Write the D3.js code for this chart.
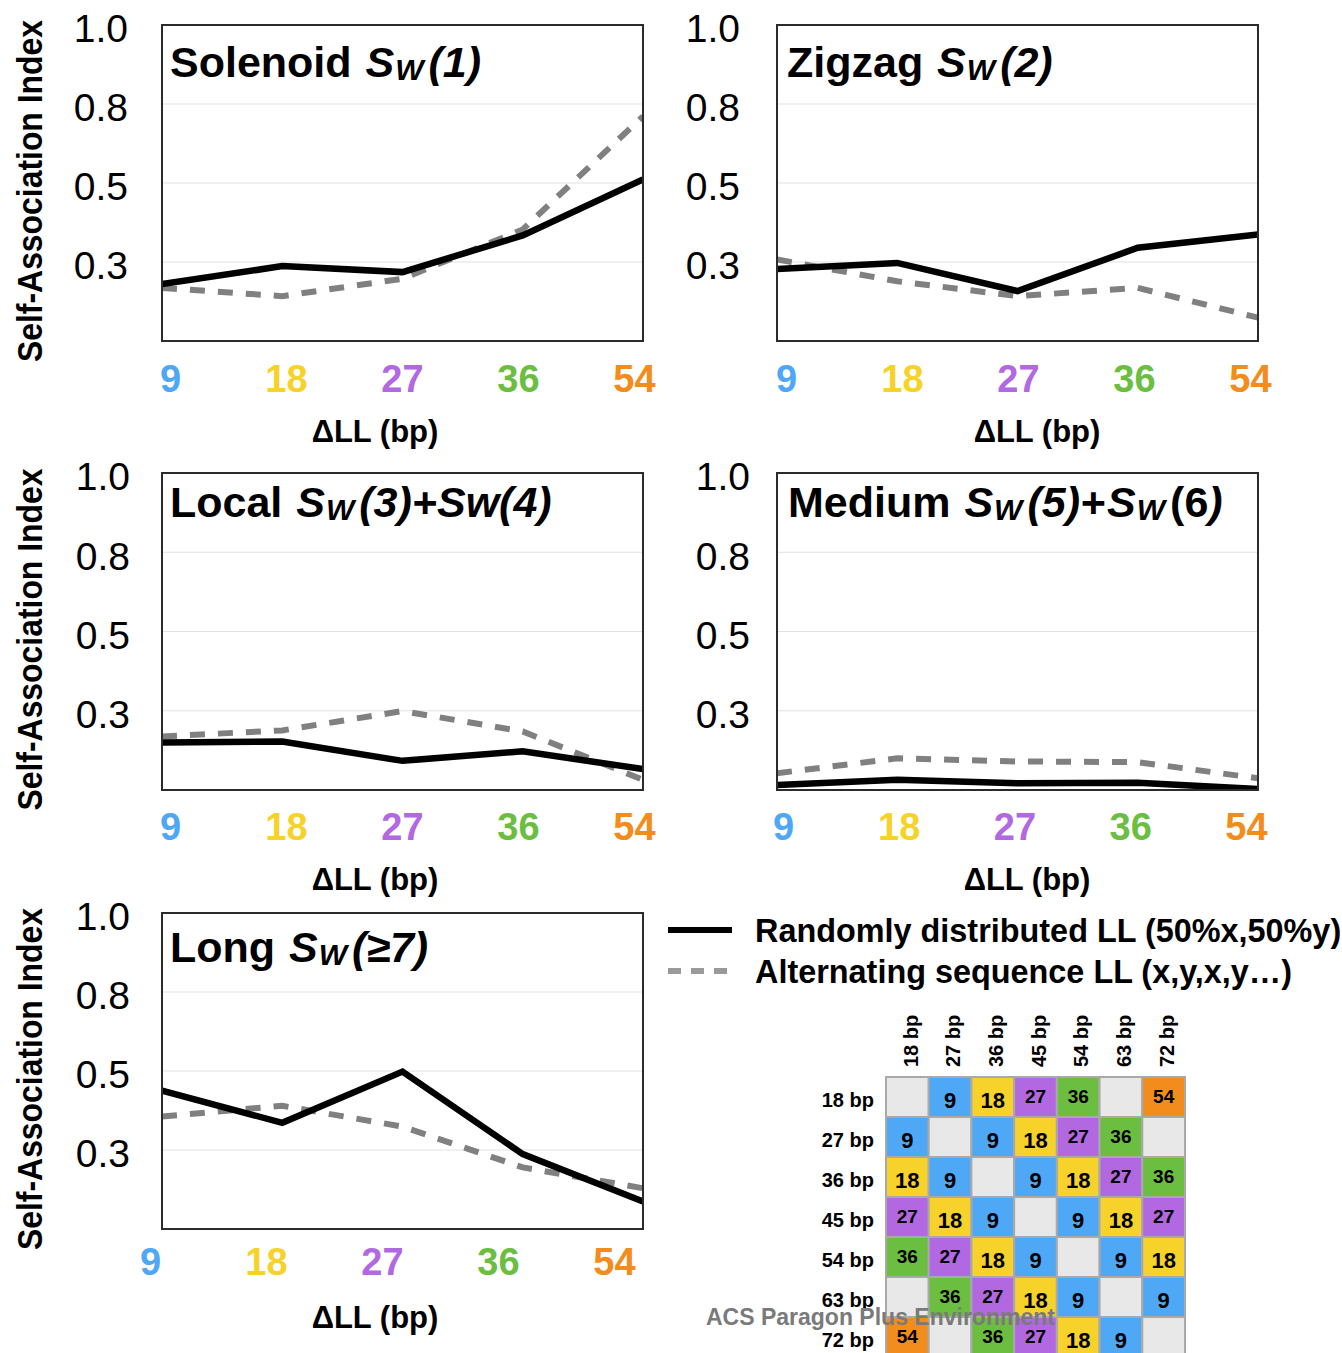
<!DOCTYPE html>
<meta charset="utf-8">
<script src="https://d3js.org/d3.v7.min.js"></script>
<style>
  body { margin: 0; background: #fff; }
  svg { font-family: "Liberation Sans", Arial, Helvetica, sans-serif; }
</style>
<div id="my_dataviz"></div>
<script>

// categories on the x axis (delta LL in bp)
var categories = [9, 18, 27, 36, 54];
var catColors = ["#4fa8f6", "#f6d22a", "#b168e1", "#6bbe3f", "#f28c1d"];

// y tick values (labels are rounded to one decimal, as in the figure)
var yTicks = [0.25, 0.5, 0.75, 1.0];

// self-association index
var solenoidRandom = [0.180, 0.237, 0.218, 0.334, 0.511];
var solenoidAlt    = [0.168, 0.142, 0.197, 0.353, 0.711];
var zigzagRandom   = [0.228, 0.247, 0.158, 0.295, 0.337];
var zigzagAlt      = [0.258, 0.189, 0.142, 0.168, 0.074];
var localRandom    = [0.150, 0.153, 0.092, 0.122, 0.066];
var localAlt       = [0.169, 0.188, 0.249, 0.185, 0.032];
var mediumRandom   = [0.016, 0.032, 0.021, 0.023, 0.003];
var mediumAlt      = [0.053, 0.100, 0.090, 0.088, 0.037];
var longRandom     = [0.438, 0.336, 0.498, 0.237, 0.087];
var longAlt        = [0.356, 0.390, 0.324, 0.195, 0.129];

// panel titles as [text, style] pieces
var titles = [
  [["Solenoid ", "b"], ["S", "i"], ["W", "sub"], ["(1)", "i"]],
  [["Zigzag ", "b"], ["S", "i"], ["W", "sub"], ["(2)", "i"]],
  [["Local ", "b"], ["S", "i"], ["W", "sub"], ["(3)+Sw(4)", "i"]],
  [["Medium ", "b"], ["S", "i"], ["W", "sub"], ["(5)+", "i"], ["S", "i"], ["W", "sub"], ["(6", "b"], [")", "i"]],
  [["Long ", "b"], ["S", "i"], ["W", "sub"], ["(\u22657)", "i"]]
];

var legendLabels = ["Randomly distributed LL (50%x,50%y)", "Alternating sequence LL (x,y,x,y\u2026)"];

// pair matrix
var sizeLabels = ["18 bp", "27 bp", "36 bp", "45 bp", "54 bp", "63 bp", "72 bp"];
var pairMatrix = [
  [null, 9, 18, 27, 36, null, 54],
  [9, null, 9, 18, 27, 36, null],
  [18, 9, null, 9, 18, 27, 36],
  [27, 18, 9, null, 9, 18, 27],
  [36, 27, 18, 9, null, 9, 18],
  [null, 36, 27, 18, 9, null, 9],
  [54, null, 36, 27, 18, 9, null]
];

var width = 1342, height = 1353;

var svg = d3.select("#my_dataviz")
  .append("svg")
    .attr("width", width)
    .attr("height", height);

var color = d3.scaleOrdinal().domain(categories).range(catColors);

// panel layout
var panels = [
  {t: 0, r: solenoidRandom, a: solenoidAlt, x0: 162, x1: 643, y0: 25, y1: 341, tr: 128, lL: 8, lR: 9, lY: 392, xt: 375, xtY: 442, tx: 170, tY: 52, yt: true},
  {t: 1, r: zigzagRandom, a: zigzagAlt, x0: 777, x1: 1258, y0: 25, y1: 341, tr: 740, lL: 9, lR: 8, lY: 392, xt: 1037, xtY: 442, tx: 787, tY: 52, yt: false},
  {t: 2, r: localRandom, a: localAlt, x0: 162, x1: 643, y0: 473, y1: 790, tr: 130, lL: 8, lR: 9, lY: 840, xt: 375, xtY: 890, tx: 170, tY: 44, yt: true},
  {t: 3, r: mediumRandom, a: mediumAlt, x0: 777, x1: 1258, y0: 473, y1: 790, tr: 750, lL: 6, lR: 12, lY: 840, xt: 1027, xtY: 890, tx: 788, tY: 44, yt: false},
  {t: 4, r: longRandom, a: longAlt, x0: 162, x1: 643, y0: 913, y1: 1229, tr: 130, lL: -12, lR: 29, lY: 1275, xt: 375, xtY: 1328, tx: 170, tY: 49, yt: true}
];

panels.forEach(function(p, i) {
  var g = svg.append("g");

  var x = d3.scalePoint().domain(categories).range([p.x0, p.x1]);
  var y = d3.scaleLinear().domain([0, 1]).range([p.y1, p.y0]);

  // gridlines
  g.selectAll(".grid")
    .data(yTicks.filter(function(d) { return d < 1; }))
    .enter().append("line")
      .attr("x1", p.x0).attr("x2", p.x1)
      .attr("y1", function(d) { return y(d); })
      .attr("y2", function(d) { return y(d); })
      .attr("stroke", "#e2e2e2")
      .attr("stroke-width", 1.2);

  // y axis labels
  var yax = g.append("g")
    .attr("transform", "translate(" + p.tr + ",0)")
    .call(d3.axisLeft(y).tickValues(yTicks).tickFormat(d3.format(".1f")).tickSize(0).tickPadding(0));
  yax.select(".domain").remove();
  yax.selectAll("text")
    .attr("font-family", "Liberation Sans, Arial, sans-serif")
    .attr("font-size", 39)
    .attr("fill", "#000")
    .attr("dy", "0.43em");

  // x axis labels, coloured per category
  var xl = d3.scalePoint().domain(categories).range([p.x0 + p.lL, p.x1 - p.lR]);
  var xax = g.append("g")
    .attr("transform", "translate(0," + p.lY + ")")
    .call(d3.axisBottom(xl).tickSize(0).tickPadding(0));
  xax.select(".domain").remove();
  xax.selectAll("text")
    .attr("font-family", "Liberation Sans, Arial, sans-serif")
    .attr("font-size", 38)
    .attr("font-weight", "bold")
    .attr("y", 0)
    .attr("dy", 0)
    .attr("fill", function(d) { return color(d); });

  g.append("text")
    .attr("x", p.xt).attr("y", p.xtY)
    .attr("text-anchor", "middle")
    .attr("font-size", 31)
    .attr("font-weight", "bold")
    .text("\u0394LL (bp)");

  if (p.yt) {
    g.append("text")
      .attr("transform", "translate(42," + ((p.y0 + p.y1) / 2 + 8) + ") rotate(-90)")
      .attr("text-anchor", "middle")
      .attr("font-size", 35)
      .attr("font-weight", "bold")
      .attr("textLength", 342)
      .attr("lengthAdjust", "spacingAndGlyphs")
      .text("Self-Association Index");
  }

  // lines
  var clipId = "clip" + i;
  svg.append("clipPath").attr("id", clipId)
    .append("rect")
      .attr("x", p.x0).attr("y", p.y0)
      .attr("width", p.x1 - p.x0).attr("height", p.y1 - p.y0);

  var line = d3.line()
    .x(function(d, j) { return x(categories[j]); })
    .y(function(d) { return y(d); });

  var lg = g.append("g").attr("clip-path", "url(#" + clipId + ")");
  lg.append("path")
    .datum(p.a)
    .attr("d", line)
    .attr("fill", "none")
    .attr("stroke", "#808080")
    .attr("stroke-width", 6)
    .attr("stroke-dasharray", "15,13");
  lg.append("path")
    .datum(p.r)
    .attr("d", line)
    .attr("fill", "none")
    .attr("stroke", "#000")
    .attr("stroke-width", 6.5);

  // frame
  g.append("rect")
    .attr("x", p.x0).attr("y", p.y0)
    .attr("width", p.x1 - p.x0).attr("height", p.y1 - p.y0)
    .attr("fill", "none")
    .attr("stroke", "#2b2b2b")
    .attr("stroke-width", 2);

  // title
  var tt = g.append("text")
    .attr("x", p.tx).attr("y", p.y0 + p.tY)
    .attr("font-size", 43)
    .attr("font-weight", "bold");
  var lastSub = false;
  titles[p.t].forEach(function(s, k) {
    var ts = tt.append("tspan").text(s[0]);
    if (s[1] === "sub") {
      ts.attr("font-size", 30).attr("font-style", "italic").attr("dy", 3).attr("dx", 1);
      lastSub = true;
    } else {
      if (s[1] === "i") ts.attr("font-style", "italic");
      if (lastSub) ts.attr("dy", -3).attr("dx", 5);
      if (s[1] === "i" && s[0] === "S" && k > 0) ts.attr("dx", 2);
      lastSub = false;
    }
  });
});

// legend
var legend = svg.append("g");
legend.selectAll("line")
  .data(legendLabels)
  .enter().append("line")
    .attr("x1", 668).attr("x2", 732)
    .attr("y1", function(d, i) { return 930 + i * 41; })
    .attr("y2", function(d, i) { return 930 + i * 41; })
    .attr("stroke", function(d, i) { return i ? "#9a9a9a" : "#000"; })
    .attr("stroke-width", 6)
    .attr("stroke-dasharray", function(d, i) { return i ? "13,10" : null; });
legend.selectAll("text")
  .data(legendLabels)
  .enter().append("text")
    .attr("x", 755)
    .attr("y", function(d, i) { return 942 + i * 41; })
    .attr("font-size", 32.4)
    .attr("font-weight", "bold")
    .text(function(d) { return d; });

// pair matrix
var mx = d3.scaleBand().domain(sizeLabels).range([886, 1185]);
var my = d3.scaleBand().domain(sizeLabels).range([1077, 1077 + 40 * sizeLabels.length]);

var cells = [];
pairMatrix.forEach(function(row, r) {
  row.forEach(function(v, c) { cells.push({r: sizeLabels[r], c: sizeLabels[c], v: v}); });
});

var mg = svg.append("g");
mg.selectAll("rect")
  .data(cells)
  .enter().append("rect")
    .attr("x", function(d) { return mx(d.c); })
    .attr("y", function(d) { return my(d.r); })
    .attr("width", mx.bandwidth())
    .attr("height", my.bandwidth())
    .attr("fill", function(d) { return d.v === null ? "#e8e8e8" : color(d.v); })
    .attr("stroke", "#a9a9a9")
    .attr("stroke-width", 2);

mg.selectAll(".cellText")
  .data(cells.filter(function(d) { return d.v !== null; }))
  .enter().append("text")
    .attr("x", function(d) { return mx(d.c) + mx.bandwidth() / 2; })
    .attr("y", function(d) { return my(d.r) + my.bandwidth() / 2 + (d.v < 27 ? 11 : 6); })
    .attr("text-anchor", "middle")
    .attr("font-weight", "bold")
    .attr("font-size", function(d) { return d.v < 27 ? 22 : 19; })
    .text(function(d) { return d.v; });

mg.selectAll(".rowLabel")
  .data(sizeLabels)
  .enter().append("text")
    .attr("x", 874)
    .attr("y", function(d) { return my(d) + my.bandwidth() / 2 + 10; })
    .attr("text-anchor", "end")
    .attr("font-weight", "bold")
    .attr("font-size", 20)
    .text(function(d) { return d; });

mg.selectAll(".colLabel")
  .data(sizeLabels)
  .enter().append("text")
    .attr("transform", function(d) {
      return "translate(" + (mx(d) + mx.bandwidth() / 2 + 3) + ",1067) rotate(-90)";
    })
    .attr("dy", "0.36em")
    .attr("font-weight", "bold")
    .attr("font-size", 20)
    .text(function(d) { return d; });

// watermark
svg.append("text")
  .attr("x", 706).attr("y", 1325)
  .attr("font-size", 23)
  .attr("font-weight", "bold")
  .attr("fill", "#7a7a7a")
  .text("ACS Paragon Plus Environment");

</script>
